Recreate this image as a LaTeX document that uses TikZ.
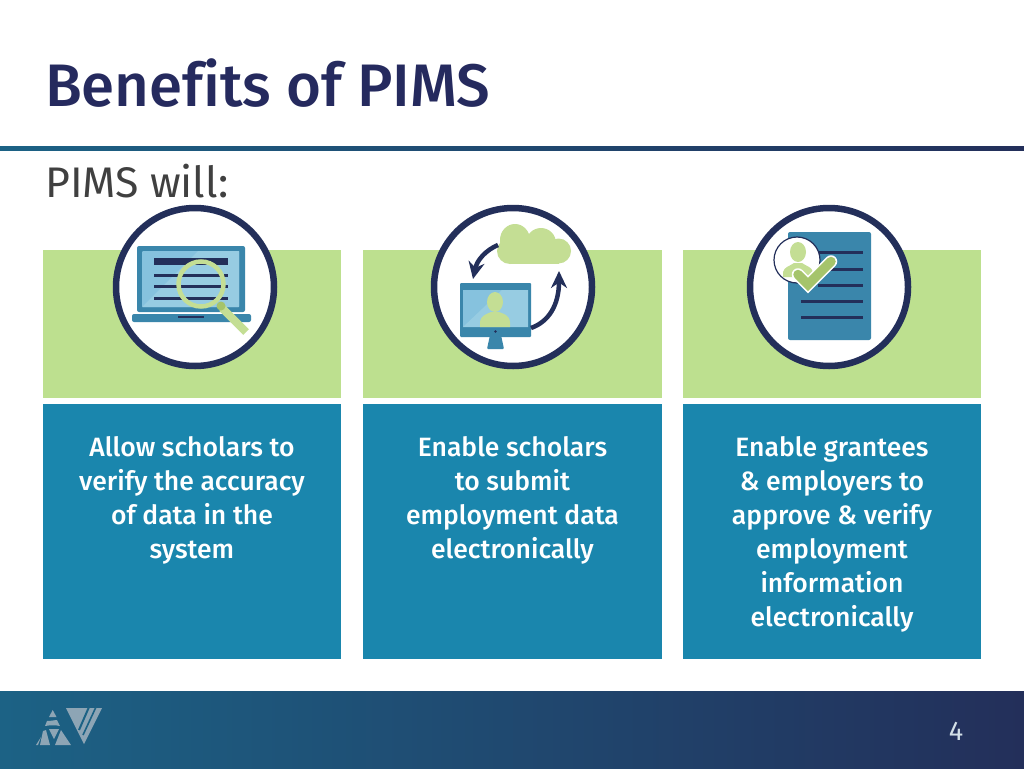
\documentclass[tikz,border=0pt]{standalone}
\usepackage{fontspec}
\setmainfont{Fira Sans}
\newfontfamily\mediumfont[Ligatures=NoCommon]{Fira Sans Medium}
\usetikzlibrary{arrows.meta, positioning}
\definecolor{navy}{HTML}{232F5A}
\definecolor{titlenavy}{HTML}{252A5E}
\definecolor{panelblue}{HTML}{1A86AD}
\definecolor{panelgreen}{HTML}{BDE08F}
\definecolor{iconblue}{HTML}{3A86AB}
\definecolor{screenblue}{HTML}{86C2DE}
\definecolor{screenlight}{HTML}{97CCE2}
\definecolor{icongreen}{HTML}{C4DE94}
\definecolor{checkgreen}{HTML}{A5C46B}
\definecolor{footerteal}{HTML}{1C6285}
\definecolor{logogrey}{HTML}{8DA5B5}
\tikzstyle{greenbox} = [
  rectangle,
  minimum width=298.5pt,
  minimum height=148pt,
  inner sep=0pt,
  fill=panelgreen
]
\tikzstyle{bluebox} = [
  rectangle,
  minimum width=298.5pt,
  minimum height=255pt,
  inner sep=0pt,
  fill=panelblue
]
\tikzstyle{boxtext} = [
  anchor=north,
  align=center,
  text=white,
  inner sep=0pt,
  font=\fontsize{26.5}{34}\mediumfont
]
\tikzstyle{ring} = [
  circle,
  minimum size=158pt,
  inner sep=0pt,
  draw=navy,
  line width=6.5pt,
  fill=white
]
\tikzstyle{bar} = [navy, line width=3pt]
\tikzstyle{looparrow} = [navy, line width=4.5pt, -{Stealth[length=17pt, width=16pt]}]
\begin{document}
\begin{tikzpicture}[x=1pt, y=-1pt, node distance=154pt]
    \useasboundingbox (0,0) rectangle (1024,768);
    \node (title) [anchor=west, inner sep=0pt, text=titlenavy, font=\fontsize{60}{60}\mediumfont] at (45,83) {Benefits of PIMS};
    \node (rule) [anchor=north west, minimum width=1024pt, minimum height=4.5pt, inner sep=0pt, left color=footerteal, right color=navy] at (0,146) {};
    \node (lead) [anchor=west, inner sep=0pt, text=black!75, font=\fontsize{42.8}{43}\selectfont] at (45,181) {PIMS will:};

    \node (green-one) [greenbox] at (192,324) {};
    \node (green-two) [greenbox] at (512.5,324) {};
    \node (green-three) [greenbox] at (832,324) {};
    \node (blue-one) [bluebox, yshift=-53.5pt, below of=green-one] {};
    \node (blue-two) [bluebox, yshift=-53.5pt, below of=green-two] {};
    \node (blue-three) [bluebox, yshift=-53.5pt, below of=green-three] {};
    \node (text-one) [boxtext, below=32pt of blue-one.north] {Allow scholars to\\verify the accuracy\\of data in the\\system};
    \node (text-two) [boxtext, below=32pt of blue-two.north] {Enable scholars\\to submit\\employment data\\electronically};
    \node (text-three) [boxtext, below=32pt of blue-three.north] {Enable grantees\\\& employers to\\approve \& verify\\employment\\information\\electronically};

    \node (ring-one) [ring] at (195,287) {};
    \node (ring-two) [ring] at (513,287) {};
    \node (ring-three) [ring] at (829,287) {};

    % laptop
    \fill[iconblue, rounded corners=2pt] (137,246) rectangle (245,312);
    \fill[iconblue, rounded corners=2pt] (132,314) rectangle (251,322);
    \fill[screenblue, rounded corners=1pt] (142,251) rectangle (239,307);
    \fill[screenlight] (142,307) -- (198,251) -- (239,251) -- (239,307) -- cycle;
    \draw[navy, line width=1.2pt] (178,317) -- (204,317);
    \fill[navy] (154,258) rectangle (228,264.5);
    \draw[bar] (154,275) -- (228,275);
    \draw[bar] (154,286) -- (228,286);
    \draw[bar] (154,298) -- (228,298);
    \draw[icongreen, line width=8pt] (222,308) -- (246,332);
    \fill[checkgreen] (221,306) circle (4.5pt);
    \draw[icongreen, line width=4.5pt] (201,284) circle (22.5pt);

    % monitor and cloud
    \fill[iconblue, rounded corners=1pt] (490,335) -- (501,335) -- (504,349) -- (487,349) -- cycle;
    \node (monitor) [rectangle, fill=iconblue, rounded corners=1pt, inner sep=0pt, minimum width=71pt, minimum height=54pt] at (495.5,310) {};
    \fill[screenblue] (463,290) rectangle (528,327);
    \fill[screenlight] (463,327) -- (502,290) -- (528,290) -- (528,327) -- cycle;
    \fill[navy] (495.5,331.5) circle (1.3pt);
    \fill[icongreen] (495,302) ellipse (8pt and 10pt);
    \fill[icongreen] (480,327) -- (480,322) .. controls (481,315) and (487,314) .. (491,312) -- (499,312) .. controls (504,314) and (509,315) .. (510,322) -- (510,327) -- cycle;
    \fill[icongreen] (515,240) ellipse (15pt and 16pt);
    \fill[icongreen] (541,243) ellipse (15pt and 15pt);
    \fill[icongreen] (558.5,251) circle (12.5pt);
    \fill[icongreen] (510,251) circle (13pt);
    \fill[icongreen] (510,240) rectangle (559,264);
    \coordinate (cloud-left) at (498,245);
    \coordinate (monitor-top) at (473,279);
    \coordinate (monitor-right) at (531,328);
    \coordinate (cloud-bottom) at (559,271);
    \draw[looparrow] (cloud-left) .. controls (486,250) and (477,260) .. (monitor-top);
    \draw[looparrow] (monitor-right) .. controls (548,322) and (559,306) .. (cloud-bottom);

    % document
    \fill[iconblue, rounded corners=2pt] (788,232) rectangle (871,340);
    \draw[bar] (818,252) -- (863,252);
    \draw[bar] (818,269) -- (863,269);
    \draw[bar] (818,285) -- (863,285);
    \draw[bar] (801,301) -- (863,301);
    \draw[bar] (801,317) -- (863,317);
    \draw[navy, fill=white, line width=1.2pt] (797,260) circle (23pt);
    \fill[icongreen] (798,252) ellipse (8pt and 10pt);
    \fill[icongreen] (783,277) -- (783,272) .. controls (784,267) and (790,266) .. (794,263) -- (802,263) .. controls (806,266) and (812,267) .. (813,272) -- (813,277) -- cycle;
    \draw[white, line width=12.5pt, line cap=round, line join=miter] (798,274.5) -- (808,284.5) -- (831,261.5);
    \draw[checkgreen, line width=9.5pt, line cap=round, line join=miter] (798,274.5) -- (808,284.5) -- (831,261.5);

    % footer
    \node (footer) [anchor=north west, minimum width=1024pt, minimum height=77pt, inner sep=0pt, left color=footerteal, right color=navy] at (0,691) {};
    \fill[logogrey] (52.7,710) -- (56.5,717) -- (49,717) -- cycle;
    \fill[logogrey] (47,721) .. controls (51,721) and (55,720) .. (57,720) -- (60,726) .. controls (56,725) and (50,725) .. (45,726) -- cycle;
    \fill[logogrey] (43,731) -- (46,730) -- (50,745) -- (40,745) -- cycle;
    \fill[logogrey] (41,737) -- (38,745) -- (36,745) -- cycle;
    \fill[logogrey] (49,729) -- (59,729) -- (54,739) -- cycle;
    \fill[logogrey] (61,730) -- (71,745) -- (55,745) -- cycle;
    \fill[logogrey] (66,708) -- (102,708) -- (84,744) -- cycle;
    \draw[footerteal, line width=2pt] (89,707) -- (79,730);
    \draw[footerteal, line width=1.6pt] (96,707) -- (83,735);
    \node (page) [text=white!80!footerteal, inner sep=0pt, font=\fontsize{27}{27}\selectfont] at (956,731) {4};
  \end{tikzpicture}
\end{document}
